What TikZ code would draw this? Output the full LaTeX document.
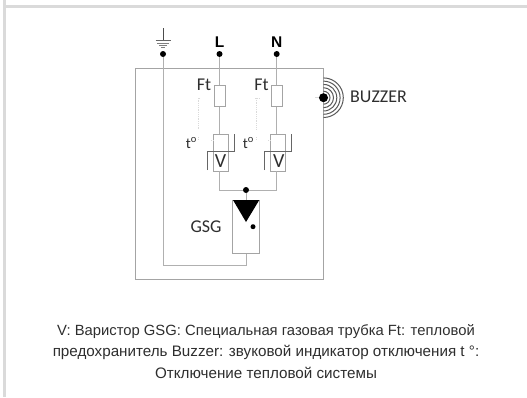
\documentclass[tikz,border=0pt]{standalone}
\usepackage{fontspec}
\setmainfont{Liberation Sans}
\newfontfamily\diagfont{Carlito}
\usetikzlibrary{calc}
\definecolor{wire}{HTML}{B0B0B0}
\definecolor{boxc}{HTML}{A4A4A4}
\definecolor{ink}{HTML}{2E2E2E}
\definecolor{band}{HTML}{DADADA}
\tikzset{
  wireline/.style={draw=wire,line width=1pt},
  partbox/.style={draw=boxc,line width=1pt,fill=white,inner sep=0pt,minimum width=#1},
  blackdot/.style={circle,fill=black,inner sep=0pt,minimum size=#1},
  lab/.style={font=\diagfont\fontsize{18}{20}\selectfont,text=ink,inner sep=0pt},
  termlab/.style={font=\bfseries\fontsize{15.5}{17}\selectfont,text=black,inner sep=0pt},
  hint/.style={draw=band,line width=.8pt,densely dotted},
  hyst/.style={draw=black!60,line width=.9pt},
  capline/.style={font=\fontsize{15.2}{17}\selectfont,text=ink,inner sep=0pt},
  arcline/.style={draw=black!65,line width=1pt}
}
\begin{document}
\begin{tikzpicture}[x=1pt,y=-1pt]
\useasboundingbox (0,0) rectangle (527,397);
\fill[band] (3,0) rectangle (6,397);
\fill[band] (6,5) rectangle (527,7.5);
% enclosure
\node[draw=boxc,line width=1pt,minimum width=188pt,minimum height=211pt,inner sep=0pt] (case) at (229,173.5) {};
% terminals
\node[blackdot=6pt] (gd) at (163,54) {};
\node[blackdot=6pt] (ld) at (219.5,54) {};
\node[blackdot=6pt] (nd) at (276.7,54) {};
\node[termlab] (L) at (219.5,41.7) {L};
\node[termlab] (N) at (276.7,41.7) {N};
% ground symbol
\coordinate (gt) at (163,28);
\coordinate (gb) at (163,40);
\draw[draw=black!70,line width=.9pt] (gt) -- (gb);
\draw[draw=black!60,line width=.9pt] (155.5,40.5) -- (170.5,40.5);
\draw[draw=black!50,line width=.9pt] (157,43) -- (169,43);
\draw[draw=black!50,line width=.9pt] (159,45.5) -- (167,45.5);
\draw[draw=black!50,line width=.8pt] (161,47.5) -- (165,47.5);
% main wires
\node[partbox=26.6pt,minimum height=53pt] (gsg) at (246,226.5) {};
\coordinate (gc) at (163,265);
\coordinate (gs) at (246,265);
\draw[wireline] (gd) -- (gc) -- (gs) -- (gsg.south);
% thermal boxes
\node[draw=boxc,line width=1pt,minimum width=15pt,minimum height=37pt,inner sep=0pt] (tl) at (220.5,152.5) {};
\node[draw=boxc,line width=1pt,minimum width=15.3pt,minimum height=37pt,inner sep=0pt] (tn) at (278.3,152.5) {};
\coordinate (tla) at (219.5,134);
\coordinate (tna) at (276.7,134);
\coordinate (tlb) at (219.5,171);
\coordinate (tnb) at (276.7,171);
\draw[wireline] (ld) -- (tla);
\draw[wireline] (nd) -- (tna);
% fuses
\node[partbox=11pt,minimum height=21pt] (fl) at (219.5,95.5) {};
\node[partbox=10.5pt,minimum height=21pt] (fn) at (276.9,95.5) {};
% V
\node[lab,font=\diagfont\fontsize{20}{22}\selectfont] (vl) at (220.5,161.3) {V};
\node[lab,font=\diagfont\fontsize{20}{22}\selectfont] (vn) at (278.8,161.3) {V};
% hysteresis
\draw[hyst] (207,170) -- (207,151) -- (234.7,151) -- (234.7,134);
\draw[hyst] (264,170) -- (264,151) -- (291.7,151) -- (291.7,134);
% junction
\node[blackdot=6pt] (jd) at (246,190) {};
\draw[wireline] (tlb) -- (219.5,190) -- (jd);
\draw[wireline] (tnb) -- (276.7,190) -- (jd);
\draw[wireline] (jd) -- (gsg.north);
% GSG symbol
\fill[black] (233,200) -- (259.3,200) -- (246,222) -- cycle;
\node[blackdot=5pt] (gi) at (253,226.7) {};
\node[lab] (gl) at (206,227) {GSG};
% labels
\node[lab] (ftl) at (204,85) {Ft};
\node[lab] (ftn) at (261.5,85) {Ft};
\node[lab,font=\diagfont\fontsize{15}{17}\selectfont] (tol) at (191.5,143) {t\textsuperscript{o}};
\node[lab,font=\diagfont\fontsize{15}{17}\selectfont] (ton) at (248.5,143) {t\textsuperscript{o}};
% dotted thermal links
\draw[hint] (200,98) -- (198,98) -- (198,130);
\draw[hint] (255,98) -- (259,98);
\draw[hint] (256.7,98) -- (256.7,130);
\draw[hint] (198,137) -- (198,140);
\draw[hint] (256.7,137) -- (256.7,140);
\draw[hint] (211,140) -- (213,140);
\draw[hint] (268,140) -- (270.6,140);
% buzzer
\node[blackdot=9pt] (bz) at (323.5,97.7) {};
\draw[hint,solid] (315,97.7) -- (bz.west);
\foreach \r in {6.5,10,13.3,16.6,19.8}{
  \draw[arcline] ($(bz.center)+(0,-\r)$) arc[start angle=90,end angle=-90,radius=\r pt];
}
\node[lab,anchor=west] (bl) at (350,97) {BUZZER};
% caption
\node[capline,font=\fontsize{14.8}{17}\selectfont] (c1) at (266,332) {V: Варистор GSG: Специальная газовая трубка Ft: тепловой};
\node[capline] (c2) at (266,352) {предохранитель Buzzer: звуковой индикатор отключения t °:};
\node[capline] (c3) at (266,372.5) {Отключение тепловой системы};
\end{tikzpicture}
\end{document}
